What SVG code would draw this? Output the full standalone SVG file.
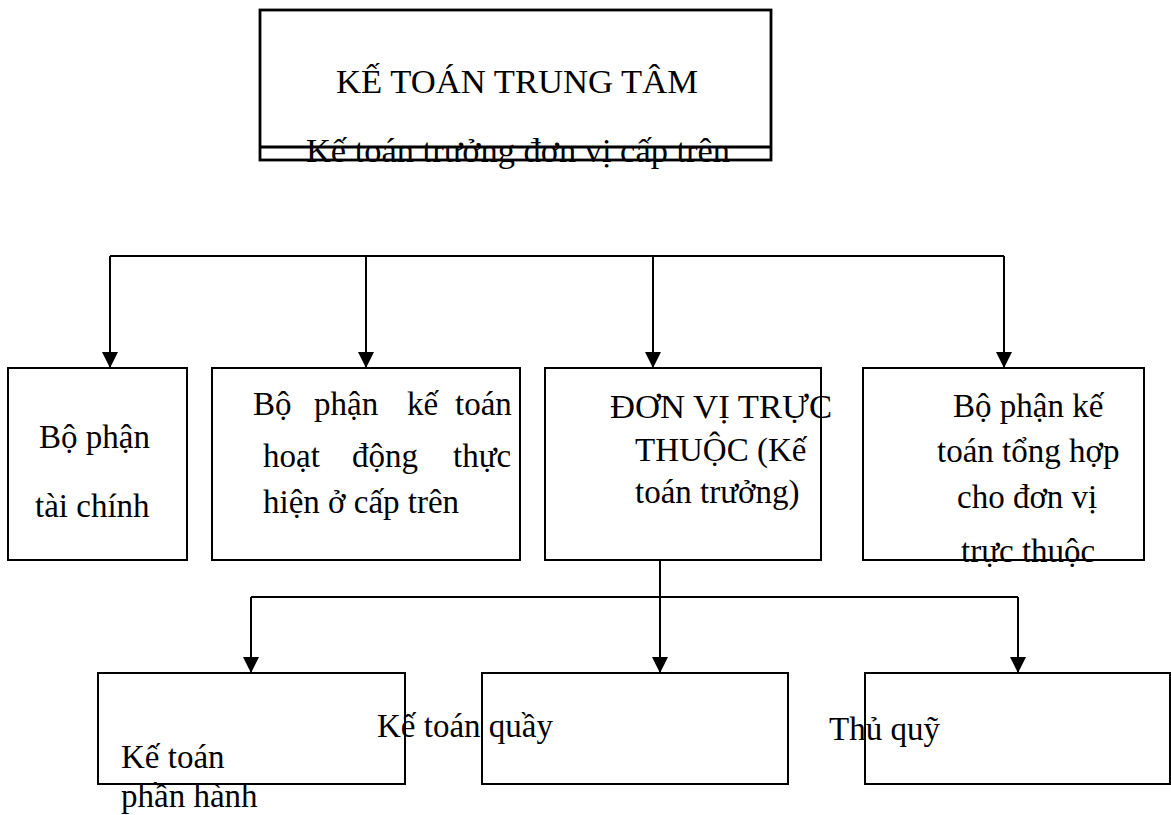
<svg xmlns="http://www.w3.org/2000/svg" width="1171" height="815" viewBox="0 0 1171 815">
<style>
  .box { fill: #ffffff; stroke: #000000; stroke-width: 2; }
  .top { fill: #ffffff; stroke: #000000; stroke-width: 2.8; }
  .t { font-family: "Liberation Serif", "Times New Roman", serif; font-size: 33px; fill: #000000; }
  .conn { fill: none; stroke: #000000; stroke-width: 2; }
</style>
<defs>
  <marker id="arrow" viewBox="0 0 16 16" refX="16" refY="8" markerWidth="16" markerHeight="16" markerUnits="userSpaceOnUse" orient="auto">
    <path d="M0,0 L16,8 L0,16 z" fill="#000000"/>
  </marker>
</defs>
<rect width="1171" height="815" fill="#ffffff"/>

<g id="ke-toan-trung-tam">
  <rect class="top" x="260" y="10" width="511" height="150"/>
  <line x1="260" y1="147" x2="771" y2="147" stroke="#000000" stroke-width="2.8"/>
  <text class="t" x="336" y="93" textLength="362" lengthAdjust="spacingAndGlyphs">KẾ TOÁN TRUNG TÂM</text>
  <text class="t" x="306" y="162" textLength="424" lengthAdjust="spacingAndGlyphs">Kế toán trưởng đơn vị cấp trên</text>
</g>

<g id="connectors">
  <path class="conn" d="M110,256 H1004"/>
  <path class="conn" d="M110,256 V368" marker-end="url(#arrow)"/>
  <path class="conn" d="M366,256 V368" marker-end="url(#arrow)"/>
  <path class="conn" d="M653,256 V368" marker-end="url(#arrow)"/>
  <path class="conn" d="M1004,256 V368" marker-end="url(#arrow)"/>
  <path class="conn" d="M660,560 V673" marker-end="url(#arrow)"/>
  <path class="conn" d="M251,597 H1018"/>
  <path class="conn" d="M251,597 V673" marker-end="url(#arrow)"/>
  <path class="conn" d="M1018,597 V673" marker-end="url(#arrow)"/>
</g>

<g id="bo-phan-tai-chinh">
  <rect class="box" x="8" y="368" width="179" height="192"/>
  <text class="t" x="39" y="448">Bộ phận</text>
  <text class="t" x="35" y="517">tài chính</text>
</g>

<g id="bo-phan-ke-toan-hoat-dong">
  <rect class="box" x="212" y="368" width="308" height="192"/>
  <text class="t" y="415"><tspan x="253">Bộ</tspan><tspan x="314">phận</tspan><tspan x="407">kế</tspan><tspan x="455">toán</tspan></text>
  <text class="t" y="467"><tspan x="263">hoạt</tspan><tspan x="352">động</tspan><tspan x="453">thực</tspan></text>
  <text class="t" x="263" y="513">hiện ở cấp trên</text>
</g>

<g id="don-vi-truc-thuoc">
  <rect class="box" x="545" y="368" width="276" height="192"/>
  <text class="t" x="610" y="418" textLength="222" lengthAdjust="spacingAndGlyphs">ĐƠN VỊ TRỰC</text>
  <text class="t" x="635" y="461">THUỘC (Kế</text>
  <text class="t" x="635" y="503">toán trưởng)</text>
</g>

<g id="bo-phan-ke-toan-tong-hop">
  <rect class="box" x="863" y="368" width="281" height="192"/>
  <text class="t" x="953" y="417">Bộ phận kế</text>
  <text class="t" x="937" y="462">toán tổng hợp</text>
  <text class="t" x="957" y="508">cho đơn vị</text>
  <text class="t" x="961" y="562">trực thuộc</text>
</g>

<g id="ke-toan-phan-hanh">
  <rect class="box" x="98" y="673" width="307" height="111"/>
  <text class="t" x="121" y="768">Kế toán</text>
  <text class="t" x="121" y="807">phần hành</text>
</g>

<g id="ke-toan-quay">
  <rect class="box" x="482" y="673" width="306" height="111"/>
  <text class="t" x="377" y="737">Kế toán quầy</text>
</g>

<g id="thu-quy">
  <rect class="box" x="865" y="673" width="305" height="111"/>
  <text class="t" x="829" y="740">Thủ quỹ</text>
</g>
</svg>
